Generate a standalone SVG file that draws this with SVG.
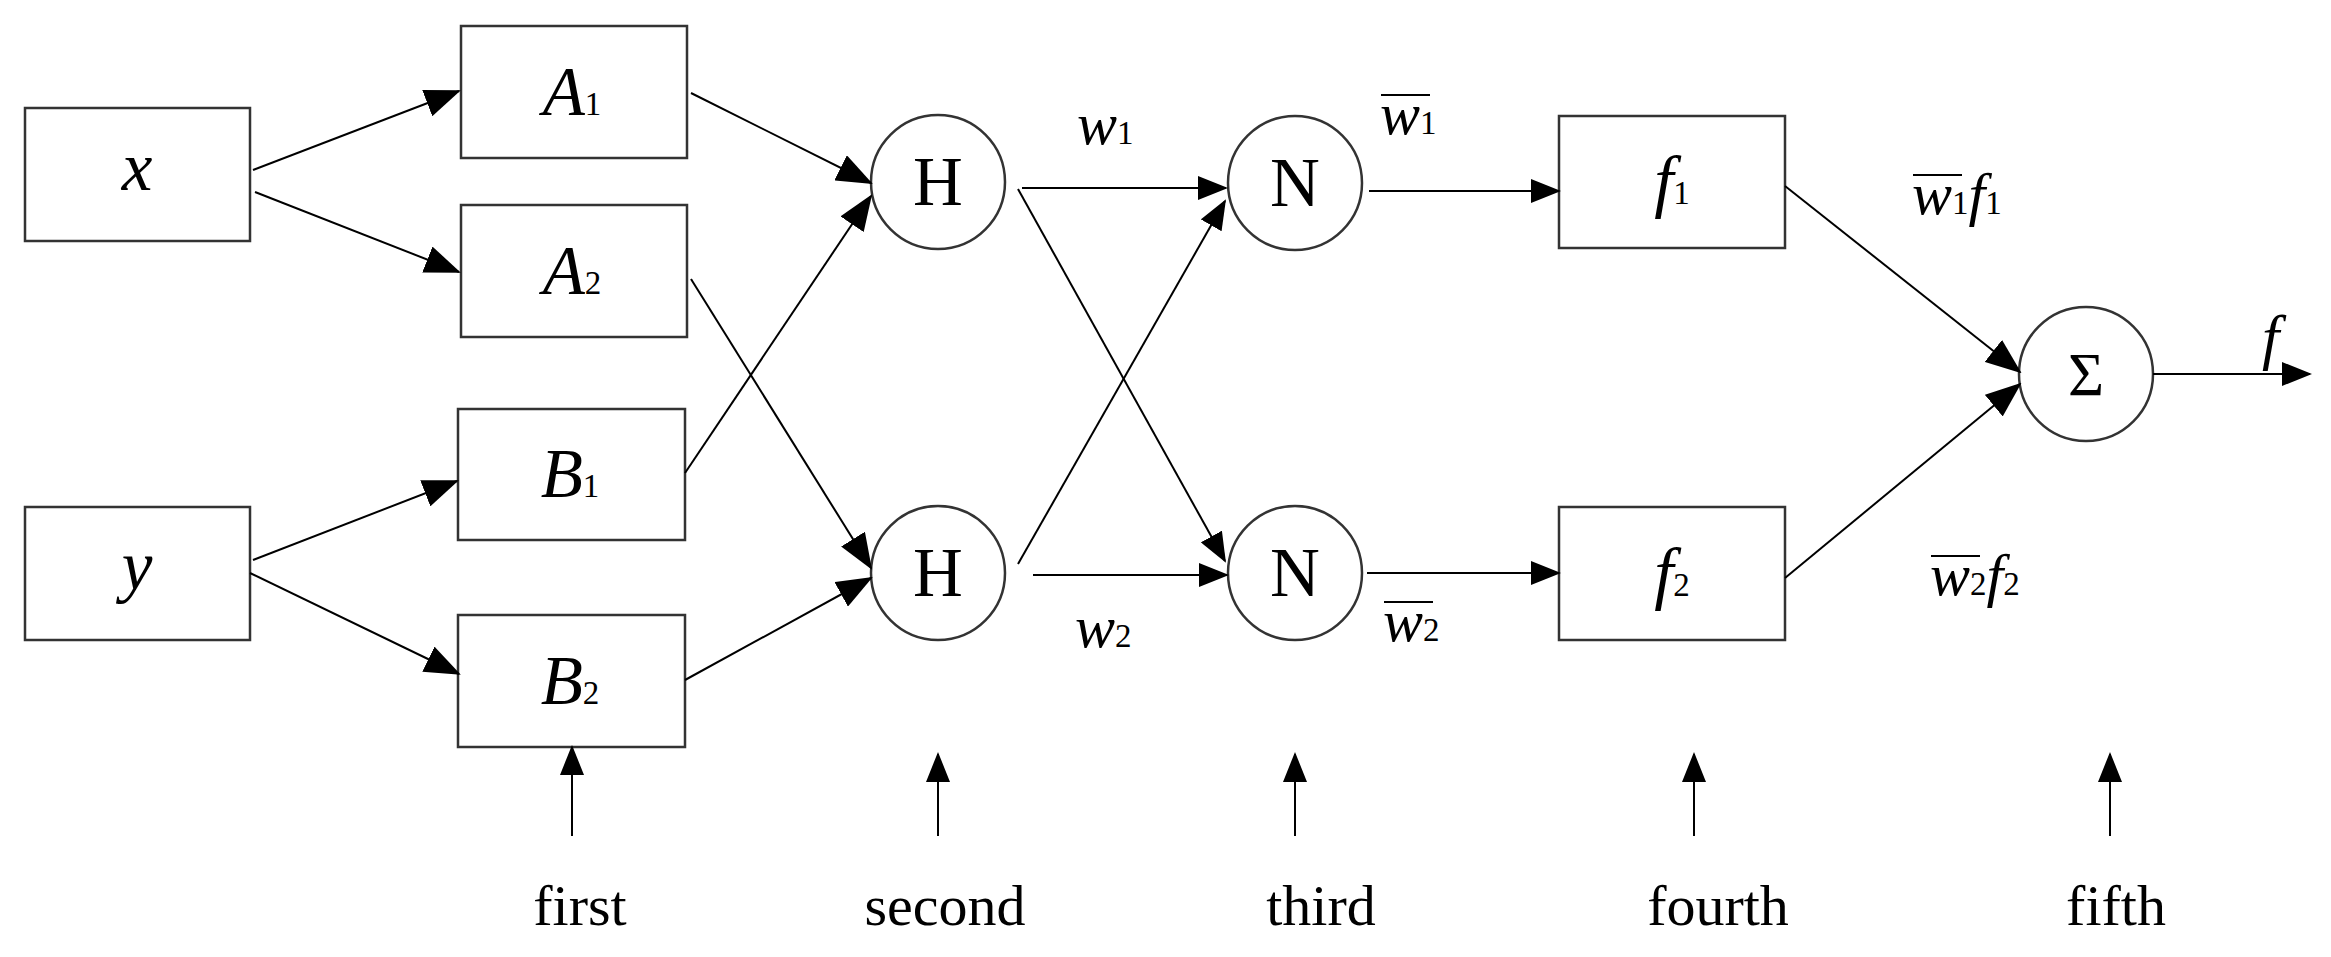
<svg xmlns="http://www.w3.org/2000/svg" width="2331" height="957" viewBox="0 0 2331 957">
<defs>
<marker id="ah" markerUnits="userSpaceOnUse" markerWidth="36" markerHeight="28" refX="34" refY="14" orient="auto"><path d="M0,0 L36,14 L0,28 Z" fill="#000"/></marker>
<marker id="as" markerUnits="userSpaceOnUse" markerWidth="30" markerHeight="24" refX="28" refY="12" orient="auto"><path d="M0,0 L30,12 L0,24 Z" fill="#000"/></marker>
<style>
.b{fill:#fff;stroke:#333;stroke-width:2.5}
.t{font-family:"Liberation Serif",serif;fill:#000}
.i{font-style:italic}
.l{stroke:#000;stroke-width:2;fill:none}
</style>
</defs>
<rect width="2331" height="957" fill="#fff"/>
<g id="nx"><rect class="b" x="25" y="108" width="225" height="133"/><text class="t i" x="137" y="190" font-size="69" text-anchor="middle">x</text></g>
<g id="ny"><rect class="b" x="25" y="507" width="225" height="133"/><text class="t i" x="137" y="589" font-size="69" text-anchor="middle">y</text></g>
<g id="nA1"><rect class="b" x="461" y="26" width="226" height="132"/><text class="t" x="572" y="115" text-anchor="middle"><tspan class="i" font-size="69">A</tspan><tspan font-size="33">1</tspan></text></g>
<g id="nA2"><rect class="b" x="461" y="205" width="226" height="132"/><text class="t" x="572" y="294" text-anchor="middle"><tspan class="i" font-size="69">A</tspan><tspan font-size="33">2</tspan></text></g>
<g id="nB1"><rect class="b" x="458" y="409" width="227" height="131"/><text class="t" x="570" y="497" text-anchor="middle"><tspan class="i" font-size="69">B</tspan><tspan font-size="33">1</tspan></text></g>
<g id="nB2"><rect class="b" x="458" y="615" width="227" height="132"/><text class="t" x="570" y="704" text-anchor="middle"><tspan class="i" font-size="69">B</tspan><tspan font-size="33">2</tspan></text></g>
<g id="nH1"><circle class="b" cx="938" cy="182" r="67"/><text class="t" x="938" y="205" font-size="69" text-anchor="middle">H</text></g>
<g id="nH2"><circle class="b" cx="938" cy="573" r="67"/><text class="t" x="938" y="596" font-size="69" text-anchor="middle">H</text></g>
<g id="nN1"><circle class="b" cx="1295" cy="183" r="67"/><text class="t" x="1295" y="206" font-size="69" text-anchor="middle">N</text></g>
<g id="nN2"><circle class="b" cx="1295" cy="573" r="67"/><text class="t" x="1295" y="596" font-size="69" text-anchor="middle">N</text></g>
<g id="nf1"><rect class="b" x="1559" y="116" width="226" height="132"/><text class="t" x="1672" y="204" text-anchor="middle"><tspan class="i" font-size="69">f</tspan><tspan font-size="33">1</tspan></text></g>
<g id="nf2"><rect class="b" x="1559" y="507" width="226" height="133"/><text class="t" x="1672" y="596" text-anchor="middle"><tspan class="i" font-size="69">f</tspan><tspan font-size="33">2</tspan></text></g>
<g id="nS"><circle class="b" cx="2086" cy="374" r="67"/><text class="t" x="2086" y="395" font-size="62" text-anchor="middle">Σ</text></g>
<g id="connectors">
<line class="l" x1="253" y1="170" x2="459" y2="91" marker-end="url(#ah)"/>
<line class="l" x1="255" y1="192" x2="459" y2="272" marker-end="url(#ah)"/>
<line class="l" x1="253" y1="560" x2="457" y2="481" marker-end="url(#ah)"/>
<line class="l" x1="250" y1="573" x2="459" y2="674" marker-end="url(#ah)"/>
<line class="l" x1="691" y1="93" x2="871" y2="183" marker-end="url(#ah)"/>
<line class="l" x1="685" y1="473" x2="871" y2="196" marker-end="url(#ah)"/>
<line class="l" x1="691" y1="279" x2="871" y2="568" marker-end="url(#ah)"/>
<line class="l" x1="685" y1="680" x2="871" y2="578" marker-end="url(#ah)"/>
<line class="l" x1="1022" y1="188" x2="1226" y2="188" marker-end="url(#as)"/>
<line class="l" x1="1018" y1="189" x2="1225" y2="561" marker-end="url(#as)"/>
<line class="l" x1="1018" y1="564" x2="1225" y2="201" marker-end="url(#as)"/>
<line class="l" x1="1033" y1="575" x2="1227" y2="575" marker-end="url(#as)"/>
<line class="l" x1="1369" y1="191" x2="1559" y2="191" marker-end="url(#as)"/>
<line class="l" x1="1367" y1="573" x2="1559" y2="573" marker-end="url(#as)"/>
<line class="l" x1="1785" y1="186" x2="2020" y2="372" marker-end="url(#ah)"/>
<line class="l" x1="1785" y1="578" x2="2020" y2="384" marker-end="url(#ah)"/>
<line class="l" x1="2153" y1="374" x2="2310" y2="374" marker-end="url(#as)"/>
<line class="l" x1="572" y1="836" x2="572" y2="747" marker-end="url(#as)"/>
<line class="l" x1="938" y1="836" x2="938" y2="754" marker-end="url(#as)"/>
<line class="l" x1="1295" y1="836" x2="1295" y2="754" marker-end="url(#as)"/>
<line class="l" x1="1694" y1="836" x2="1694" y2="754" marker-end="url(#as)"/>
<line class="l" x1="2110" y1="836" x2="2110" y2="754" marker-end="url(#as)"/>
</g>
<g id="labels">
<text class="t" x="1077" y="144"><tspan class="i" font-size="60">w</tspan><tspan font-size="33">1</tspan></text>
<text class="t" x="1075" y="647"><tspan class="i" font-size="60">w</tspan><tspan font-size="33">2</tspan></text>
<text class="t" x="1380" y="134"><tspan class="i" font-size="60">w</tspan><tspan font-size="33">1</tspan></text>
<line class="l" x1="1381" y1="95" x2="1430" y2="95"/>
<text class="t" x="1383" y="641"><tspan class="i" font-size="60">w</tspan><tspan font-size="33">2</tspan></text>
<line class="l" x1="1384" y1="602" x2="1433" y2="602"/>
<text class="t" x="1912" y="214"><tspan class="i" font-size="60">w</tspan><tspan font-size="33">1</tspan><tspan class="i" font-size="60">f</tspan><tspan font-size="33">1</tspan></text>
<line class="l" x1="1913" y1="175" x2="1962" y2="175"/>
<text class="t" x="1930" y="595"><tspan class="i" font-size="60">w</tspan><tspan font-size="33">2</tspan><tspan class="i" font-size="60">f</tspan><tspan font-size="33">2</tspan></text>
<line class="l" x1="1931" y1="556" x2="1980" y2="556"/>
<text class="t i" x="2262" y="358" font-size="62">f</text>
<text class="t" x="580" y="925" font-size="58" text-anchor="middle">first</text>
<text class="t" x="945" y="925" font-size="58" text-anchor="middle">second</text>
<text class="t" x="1321" y="925" font-size="58" text-anchor="middle">third</text>
<text class="t" x="1718" y="925" font-size="58" text-anchor="middle">fourth</text>
<text class="t" x="2116" y="925" font-size="58" text-anchor="middle">fifth</text>
</g>
</svg>
